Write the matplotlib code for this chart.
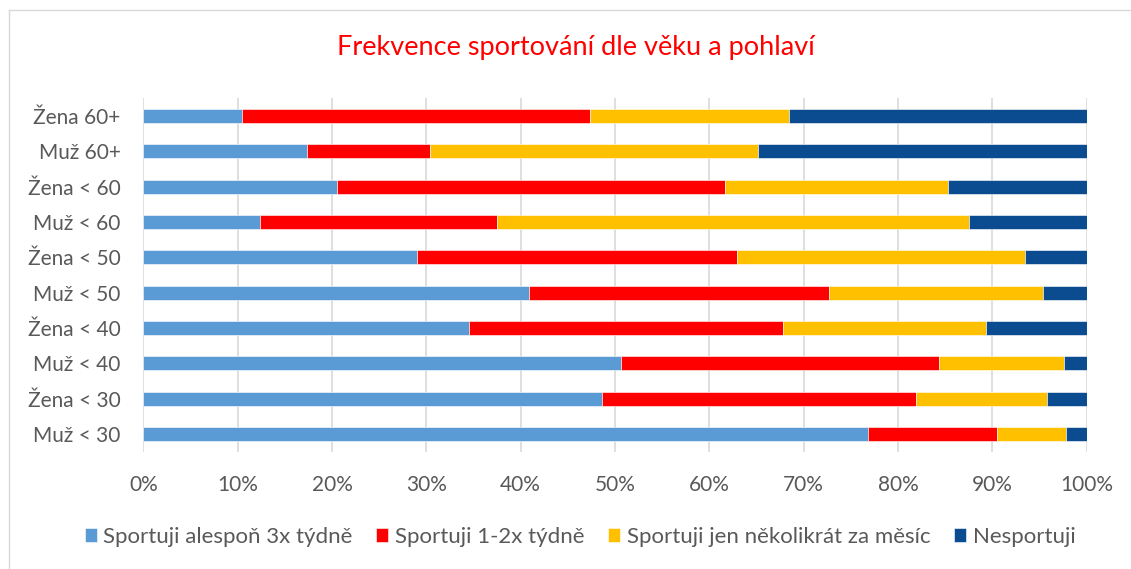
import matplotlib
matplotlib.use("Agg")
import matplotlib.pyplot as plt
from matplotlib.lines import Line2D
import numpy as np

plt.rcParams['font.family'] = ['Lato', 'DejaVu Sans']

categories = ["Žena 60+", "Muž 60+", "Žena < 60", "Muž < 60", "Žena < 50",
              "Muž < 50", "Žena < 40", "Muž < 40", "Žena < 30", "Muž < 30"]
series_names = ["Sportuji alespoň 3x týdně", "Sportuji 1-2x týdně",
                "Sportuji jen několikrát za měsíc", "Nesportuji"]
s1 = [10.5, 17.4, 20.5, 12.4, 29.0, 40.9, 34.5, 50.6, 48.6, 76.8]
s2 = [36.9, 13.0, 41.2, 25.1, 33.9, 31.8, 33.3, 33.7, 33.3, 13.7]
s3 = [21.0, 34.8, 23.6, 50.0, 30.6, 22.7, 21.5, 13.3, 13.9, 7.3]
s4 = [31.6, 34.8, 14.7, 12.5, 6.5, 4.6, 10.7, 2.4, 4.2, 2.2]
colors = ["#5B9BD5", "#FF0000", "#FFC000", "#0A4C8F"]
xticks = [0, 10, 20, 30, 40, 50, 60, 70, 80, 90, 100]
xticklabels = [f"{t}%" for t in xticks]

fig = plt.figure(figsize=(11.31, 5.69), dpi=100)
ax = fig.add_axes([0.1267, 0.2062, 0.8341, 0.621])

y = np.arange(len(categories))[::-1]
left = np.zeros(len(categories))
for vals, col, name in zip([s1, s2, s3, s4], colors, series_names):
    v = np.array(vals)
    ax.barh(y, v, left=left, height=0.4, color=col, label=name,
            edgecolor='white', linewidth=0.4, zorder=3)
    left += v

ax.set_xlim(0, 100)
ax.set_ylim(-0.5, len(categories) - 0.5)
ax.set_yticks(y)
ax.set_yticklabels(categories, fontsize=15, color='#595959')
ax.set_xticks(xticks)
ax.set_xticklabels(xticklabels, fontsize=15, color='#595959')
ax.tick_params(axis='both', length=0)
ax.tick_params(axis='y', pad=16.5)
ax.tick_params(axis='x', pad=17)
ax.grid(axis='x', color='#D9D9D9', linewidth=1.2, zorder=0)
for sp in ax.spines.values():
    sp.set_visible(False)

fig.text(576 / 1131, 1 - 48 / 569, "Frekvence sportování dle věku a pohlaví",
         ha='center', va='center', color='#FF0000', fontsize=19.5)

leg = fig.legend(loc='center', bbox_to_anchor=(580 / 1131, 1 - 537 / 569), ncol=4,
                 frameon=False, fontsize=16, handlelength=0.55, handleheight=0.55,
                 handletextpad=0.3, columnspacing=1.05)
for t in leg.get_texts():
    t.set_color('#595959')

# chart-area border (left and top edges visible)
fig.add_artist(Line2D([9 / 1131, 9 / 1131], [0, 1 - 10 / 569], transform=fig.transFigure,
                      color='#D9D9D9', linewidth=1))
fig.add_artist(Line2D([9 / 1131, 1], [1 - 10 / 569, 1 - 10 / 569], transform=fig.transFigure,
                      color='#D9D9D9', linewidth=1))

fig.savefig("out.png", dpi=100)
